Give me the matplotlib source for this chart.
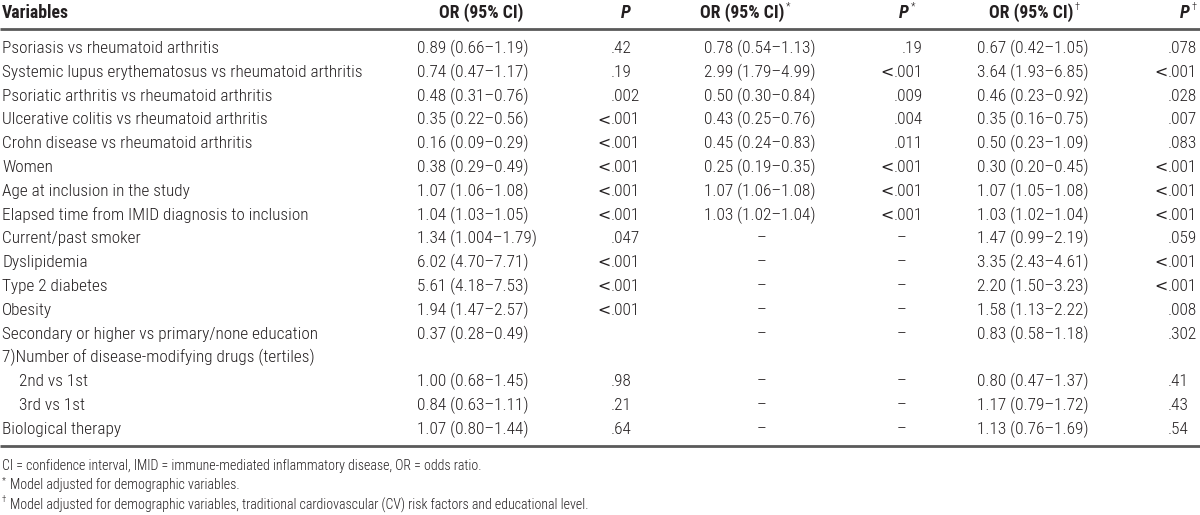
import matplotlib
matplotlib.use("Agg")
import matplotlib.pyplot as plt

# ---------------- data ----------------
variables = [
    "Psoriasis vs rheumatoid arthritis",
    "Systemic lupus erythematosus vs rheumatoid arthritis",
    "Psoriatic arthritis vs rheumatoid arthritis",
    "Ulcerative colitis vs rheumatoid arthritis",
    "Crohn disease vs rheumatoid arthritis",
    "Women",
    "Age at inclusion in the study",
    "Elapsed time from IMID diagnosis to inclusion",
    "Current/past smoker",
    "Dyslipidemia",
    "Type 2 diabetes",
    "Obesity",
    "Secondary or higher vs primary/none education",
    "7)Number of disease-modifying drugs (tertiles)",
    "2nd vs 1st",
    "3rd vs 1st",
    "Biological therapy",
]
indented = [False] * 14 + [True, True, False]

or_crude = ["0.89 (0.66–1.19)", "0.74 (0.47–1.17)", "0.48 (0.31–0.76)", "0.35 (0.22–0.56)",
            "0.16 (0.09–0.29)", "0.38 (0.29–0.49)", "1.07 (1.06–1.08)", "1.04 (1.03–1.05)",
            "1.34 (1.004–1.79)", "6.02 (4.70–7.71)", "5.61 (4.18–7.53)", "1.94 (1.47–2.57)",
            "0.37 (0.28–0.49)", "", "1.00 (0.68–1.45)", "0.84 (0.63–1.11)", "1.07 (0.80–1.44)"]
p_crude = [".42", ".19", ".002", "<.001", "<.001", "<.001", "<.001", "<.001", ".047",
           "<.001", "<.001", "<.001", "", "", ".98", ".21", ".64"]

or_demo = ["0.78 (0.54–1.13)", "2.99 (1.79–4.99)", "0.50 (0.30–0.84)", "0.43 (0.25–0.76)",
           "0.45 (0.24–0.83)", "0.25 (0.19–0.35)", "1.07 (1.06–1.08)", "1.03 (1.02–1.04)",
           "–", "–", "–", "–", "–", "", "–", "–", "–"]
p_demo = [".19", "<.001", ".009", ".004", ".011", "<.001", "<.001", "<.001",
          "–", "–", "–", "–", "–", "", "–", "–", "–"]

or_full = ["0.67 (0.42–1.05)", "3.64 (1.93–6.85)", "0.46 (0.23–0.92)", "0.35 (0.16–0.75)",
           "0.50 (0.23–1.09)", "0.30 (0.20–0.45)", "1.07 (1.05–1.08)", "1.03 (1.02–1.04)",
           "1.47 (0.99–2.19)", "3.35 (2.43–4.61)", "2.20 (1.50–3.23)", "1.58 (1.13–2.22)",
           "0.83 (0.58–1.18)", "", "0.80 (0.47–1.37)", "1.17 (0.79–1.72)", "1.13 (0.76–1.69)"]
p_full = [".078", "<.001", ".028", ".007", ".083", "<.001", "<.001", "<.001", ".059",
          "<.001", "<.001", ".008", ".302", "", ".41", ".43", ".54"]

footnotes = [
    ("", "CI = confidence interval, IMID = immune-mediated inflammatory disease, OR = odds ratio."),
    ("*", "Model adjusted for demographic variables."),
    ("†", "Model adjusted for demographic variables, traditional cardiovascular (CV) risk factors and educational level."),
]

# ---------------- style ----------------
plt.rcParams["font.family"] = ["Roboto Condensed", "DejaVu Sans"]

TXT = "#231f20"
LINE = "#5a5a5a"
FS = 12.4
FS_HEAD = 12.8
FS_FOOT = 10.0
BODY_W = 300

W, H = 1200, 515
fig = plt.figure(figsize=(W / 100, H / 100), dpi=100)
ax = fig.add_axes([0, 0, 1, 1])
ax.set_xlim(0, W)
ax.set_ylim(H, 0)
ax.axis("off")

ROW0, DY = 48.5, 23.8
HEAD_Y = 12.5
X_VAR, X_IND = 2, 19
X_OR1, X_OR1H = 417, 481
X_P1, X_P1H = 611, 626
X_OR2, X_OR2D, X_OR2H = 704, 762, 742
X_P2R, X_P2D, X_P2H = 923, 902, 904
X_OR3, X_OR3H = 977, 1031
X_P3, X_P3H = 1168, 1185


def t(x, y, s, ha="left", fs=FS, weight=BODY_W, **kw):
    return ax.text(x, y, s, ha=ha, va="center", fontsize=fs, color=TXT,
                   fontweight=weight, **kw)


def lt(x, y, ha="left"):
    # wide less-than sign as in the typeset original
    ax.text(x, y, "<", ha=ha, va="center", fontsize=FS - 1.0, color=TXT,
            family="DejaVu Sans", fontweight="normal")


def decimal(x, y, s):
    if s.startswith("<"):
        lt(x - 0.5, y, ha="right")
        t(x, y, s[1:], ha="left")
    elif s:
        t(x, y, s, ha="left")


def right_val(x, y, s):
    if s.startswith("<"):
        h = t(x, y, s[1:], ha="right")
        bb = h.get_window_extent(renderer=renderer)
        xl = ax.transData.inverted().transform((bb.x0, bb.y0))[0]
        lt(xl - 0.5, y, ha="right")
    else:
        t(x, y, s, ha="right")


fig.canvas.draw()
renderer = fig.canvas.get_renderer()


def header(x, s, sup=None, italic=False, ha="center"):
    kw = {}
    if italic:
        kw["fontstyle"] = "italic"
    h = t(x, HEAD_Y, s, ha=ha, fs=FS_HEAD, weight="bold", **kw)
    if sup:
        bb = h.get_window_extent(renderer=renderer)
        xr = ax.transData.inverted().transform((bb.x1, bb.y1))[0]
        t(xr + 1.5, HEAD_Y - 6, sup, ha="left", fs=7.5)


header(X_VAR, "Variables", ha="left")
header(X_OR1H, "OR (95% CI)")
header(X_P1H, "P", italic=True)
header(X_OR2H, "OR (95% CI)", sup="*")
header(X_P2H, "P", sup="*", italic=True)
header(X_OR3H, "OR (95% CI)", sup="†")
header(X_P3H, "P", sup="†", italic=True)

ax.plot([0, W], [29, 29], color=LINE, lw=2.0, solid_capstyle="butt")

for i, v in enumerate(variables):
    y = ROW0 + i * DY
    t(X_IND if indented[i] else X_VAR, y, v)
    if or_crude[i]:
        t(X_OR1, y, or_crude[i])
    decimal(X_P1, y, p_crude[i])
    if or_demo[i] == "–":
        t(X_OR2D, y, "–", ha="center")
    elif or_demo[i]:
        t(X_OR2, y, or_demo[i])
    if p_demo[i] == "–":
        t(X_P2D, y, "–", ha="center")
    elif p_demo[i]:
        right_val(X_P2R, y, p_demo[i])
    if or_full[i]:
        t(X_OR3, y, or_full[i])
    decimal(X_P3, y, p_full[i])

y_bottom = ROW0 + (len(variables) - 1) * DY + 16.5
ax.plot([0, W], [y_bottom, y_bottom], color=LINE, lw=2.0, solid_capstyle="butt")

FOOT0, FDY = y_bottom + 20, 19.6
for k, (mark, txt) in enumerate(footnotes):
    y = FOOT0 + k * FDY
    if mark:
        t(2, y - 5, mark, fs=6.5)
        t(10, y, txt, fs=FS_FOOT)
    else:
        t(2, y, txt, fs=FS_FOOT)

fig.savefig("out.png", dpi=100)
